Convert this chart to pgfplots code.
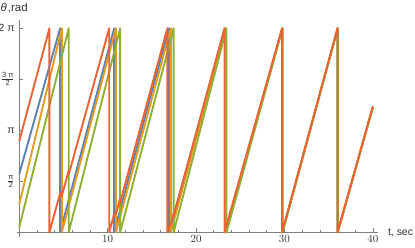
\documentclass[border=0pt]{standalone}
\usepackage{pgfplots}
\pgfplotsset{compat=1.18}
\usepackage{fontspec}
\setmainfont{Liberation Sans}
\definecolor{mblue}{HTML}{5E81B5}
\definecolor{morange}{HTML}{E19C24}
\definecolor{mgreen}{HTML}{8FB032}
\definecolor{mred}{HTML}{EB6235}
\definecolor{axgray}{HTML}{7F7F7F}
\newcommand{\fr}[2]{$\frac{\mbox{\fontsize{7.5}{7.5}\selectfont #1}}{\mbox{\fontsize{7.5}{7.5}\selectfont #2}}$}
\begin{document}
\begin{tikzpicture}
\path[use as bounding box] (-16.55bp,-10.8bp) rectangle (398.45bp,237.2bp);
\begin{axis}[
  scale only axis, width=361.6bp, height=217.6bp,
  axis lines=middle,
  axis line style={-, axgray, line width=0.6bp},
  every inner x axis line/.append style={-},
  every inner y axis line/.append style={-},
  xmin=-0.3, xmax=40.6, ymin=-0.15, ymax=6.55,
  xtick={10,20,30,40},
  minor xtick={2,4,6,8,12,14,16,18,22,24,26,28,32,34,36,38},
  ytick={1.5708,3.1416,4.7124,6.2832},
  yticklabels={\fr{π}{2}, π, \fr{3 π}{2}, 2 π},
  tick align=inside,
  major tick length=4bp, minor tick length=2.5bp,
  tick style={axgray, line width=0.6bp},
  ticklabel style={font=\fontsize{10.5}{12}\selectfont, text=black!80},
  yticklabel style={xshift=-1bp},
  clip=false,
  line join=round,
]
\addplot[mblue, line width=1.9bp] coordinates {
(0,1.79) (4.63,6.283) (4.63,0) (10.74,6.283) (10.74,0) (16.93,6.283) (16.93,0)
(23.30,6.283) (23.30,0) (29.75,6.283) (29.75,0) (36.02,6.283) (36.02,0) (40,3.86)};
\addplot[morange, line width=1.9bp] coordinates {
(0,0.86) (4.82,6.283) (4.82,0) (10.94,6.283) (10.94,0) (17.15,6.283) (17.15,0)
(23.35,6.283) (23.35,0) (29.76,6.283) (29.76,0) (36.02,6.283) (36.02,0) (40,3.86)};
\addplot[mgreen, line width=1.9bp] coordinates {
(0,0.15) (5.60,6.283) (5.60,0) (11.42,6.283) (11.42,0) (17.47,6.283) (17.47,0)
(23.45,6.283) (23.45,0) (29.80,6.283) (29.80,0) (36.04,6.283) (36.04,0) (40,3.84)};
\addplot[mred, line width=1.9bp] coordinates {
(0,2.80) (3.42,6.283) (3.42,0) (4.63,1.21) (4.63,1.06) (4.82,1.25) (4.82,1.12)
(5.60,1.90) (5.60,1.78) (10.18,6.283) (10.18,0) (10.74,0.56) (10.74,0.46)
(10.94,0.66) (10.94,0.56) (11.42,1.04) (11.42,0.92) (16.76,6.283) (16.76,0)
(16.93,0.17) (16.93,0.10) (17.15,0.32) (17.15,0.25) (17.47,0.57) (17.47,0.50)
(23.22,6.283) (23.22,0) (29.73,6.283) (29.73,0) (36.00,6.283) (36.00,0) (40,3.88)};
\node[anchor=west, inner sep=0pt, font=\fontsize{11.5}{13}\selectfont, text=black!80]
  at (rel axis cs:0,1) [xshift=-16.2bp, yshift=11.6bp] {\textit{θ}\kern1.2bp,rad};
\node[anchor=west, inner sep=0pt, font=\fontsize{10.5}{12}\selectfont, text=black!80]
  at (axis cs:40.6,0) [xshift=9.7bp] {t, sec};
\end{axis}
\end{tikzpicture}
\end{document}
